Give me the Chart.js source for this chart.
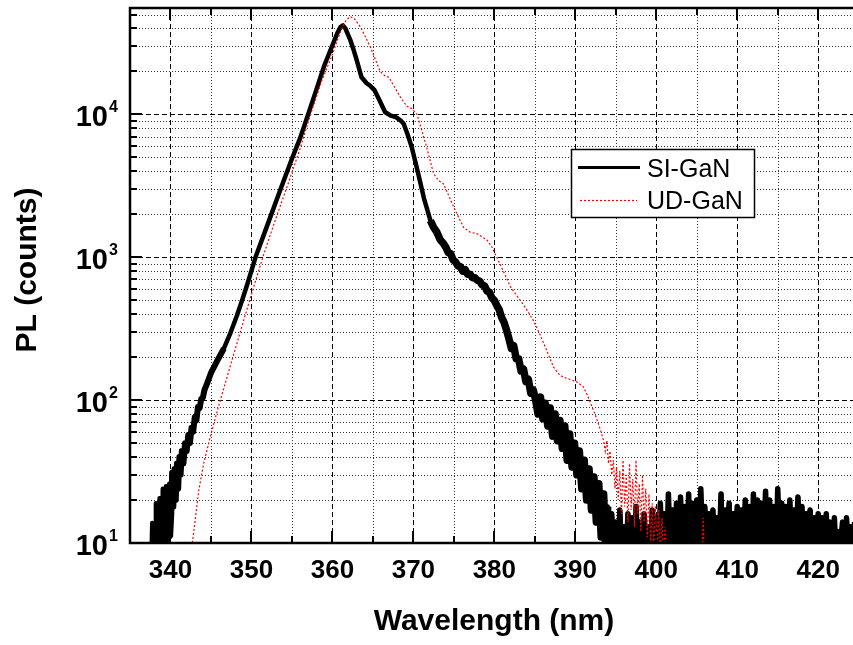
<!DOCTYPE html>
<html>
<head>
<meta charset="utf-8">
<title>PL spectra</title>
<script src="https://cdn.jsdelivr.net/npm/chart.js@4.4.0/dist/chart.umd.min.js"></script>
<style>
    html, body { margin: 0; padding: 0; background: #fff; }
    #wrap { width: 853px; height: 645px; overflow: hidden; }
</style>
</head>
<body>
<div id="wrap"><canvas id="pl-chart" width="853" height="645"></canvas></div>
<script>
// SI-GaN spectrum (wavelength nm / counts)
const siWave = [
    337.6, 337.75, 337.85, 338.1, 338.2, 338.3, 338.55, 338.65, 338.75, 338.95,
    339.05, 339.15, 339.35, 339.45, 339.55, 339.75, 339.85, 339.95, 340.1, 340.2,
    340.35, 340.5, 340.65, 340.8, 340.95, 341.1, 341.25, 341.4, 341.6, 341.8,
    342.0, 342.2, 342.4, 342.6, 342.8, 343.0, 343.2, 343.4, 343.6, 343.8,
    344.0, 344.2, 344.5, 345.0, 345.8, 346.6, 347.4, 348.2, 348.9, 349.5,
    350.5, 352.0, 353.5, 355.0, 356.0, 357.0, 358.0, 359.0, 360.0, 360.6,
    361.0, 361.3, 361.6, 362.2, 362.6, 363.0, 363.6, 364.2, 364.7, 365.2,
    365.8, 366.5, 367.2, 367.8, 368.4, 368.8, 369.3, 369.8, 370.5, 371.3,
    372.1, 372.5, 372.9, 373.3, 373.7, 374.0, 374.3, 374.6, 374.9, 375.2,
    375.5, 375.8, 376.1, 376.4, 376.7, 377.0, 377.3, 377.6, 377.9, 378.2,
    378.5, 378.8, 379.1, 379.4, 379.7, 380.0, 380.3, 380.6, 380.9, 381.2,
    381.5, 381.8, 382.1, 382.4, 382.7, 383.0, 383.3, 383.6, 383.9, 384.2,
    384.5, 384.8, 385.1, 385.4, 385.7, 386.0, 386.3, 386.6, 386.9, 387.2,
    387.5, 387.8, 388.1, 388.4, 388.7, 389.0, 389.3, 389.6, 389.9, 390.2,
    390.5, 390.8, 391.1, 391.4, 391.7, 392.0, 392.3, 392.6, 392.9, 393.2,
    393.5, 393.8, 394.0,
    394.25, 394.5, 394.75, 395.0, 395.25, 395.5, 395.75, 396.0, 396.25, 396.5,
    396.75, 397.0, 397.25, 397.5, 397.75, 398.0, 398.25, 398.5, 398.75, 399.0,
    399.25, 399.5, 399.75, 400.0, 400.25, 400.5, 400.75, 401.0, 401.25, 401.5,
    401.75, 402.0, 402.25, 402.5, 402.75, 403.0, 403.25, 403.5, 403.75, 404.0,
    404.25, 404.5, 404.75, 405.0, 405.25, 405.5, 405.75, 406.0, 406.25, 406.5,
    406.75, 407.0, 407.25, 407.5, 407.75, 408.0, 408.25, 408.5, 408.75, 409.0,
    409.25, 409.5, 409.75, 410.0, 410.25, 410.5, 410.75, 411.0, 411.25, 411.5,
    411.75, 412.0, 412.25, 412.5, 412.75, 413.0, 413.25, 413.5, 413.75, 414.0,
    414.25, 414.5, 414.75, 415.0, 415.25, 415.5, 415.75, 416.0, 416.25, 416.5,
    416.75, 417.0, 417.25, 417.5, 417.75, 418.0, 418.25, 418.5, 418.75, 419.0,
    419.25, 419.5, 419.75, 420.0, 420.25, 420.5, 420.75, 421.0, 421.25, 421.5,
    421.75, 422.0, 422.25, 422.5, 422.75, 423.0, 423.25, 423.5, 423.75, 424.0,
    424.25, 424.5, 424.75, 425.0
];
const siCounts = [
    6, 13.8, 6, 6, 19, 6, 7, 20.6, 7, 9,
    24, 8, 9, 25, 9, 12, 26, 11, 16, 31,
    18, 33, 20, 36, 24, 40, 30, 44, 36, 50,
    44, 57, 50, 64, 60, 76, 72, 90, 88, 102,
    104, 118, 130, 155, 190, 230, 295, 390, 510, 650,
    1000, 1700, 2900, 4900, 6800, 10000, 14800, 22000, 30500, 37000,
    41000, 42000, 40000, 33300, 28500, 24000, 18200, 16600, 15800, 14800,
    12600, 10400, 9800, 9600, 9100, 8600, 7200, 5900, 4070, 2600,
    1810, 1620, 1500, 1330, 1250, 1180, 1080, 1060, 960, 930,
    870, 860, 800, 820, 760, 760, 720, 720, 690, 680,
    640, 630, 580, 570, 520, 500, 460, 430, 380, 350,
    310, 270, 230, 240, 195, 195, 160, 165, 135, 140,
    112, 118, 100, 80, 105, 74, 95, 66, 88, 56,
    80, 52, 72, 46, 66, 38, 58, 34, 50, 30,
    44, 24, 38, 20, 33, 17, 29, 14, 26, 11,
    22, 8, 18,
    7, 16, 8, 14, 6, 17, 8, 13, 7, 16,
    9, 15, 7, 18, 8, 14, 6, 16, 8, 13,
    7, 17, 9, 15, 7, 19, 8, 16, 7, 22,
    8, 17, 6, 19, 9, 21, 7, 18, 8, 22,
    7, 19, 9, 20, 6, 24, 8, 18, 7, 16,
    9, 17, 7, 15, 8, 22, 6, 17, 9, 19,
    7, 16, 8, 18, 7, 17, 9, 20, 8, 18,
    6, 22, 8, 20, 7, 19, 9, 23, 7, 20,
    8, 18, 6, 24, 9, 19, 7, 18, 8, 20,
    7, 17, 9, 21, 8, 18, 6, 16, 8, 17,
    7, 15, 9, 16, 7, 15, 8, 16, 6, 14,
    8, 15, 7, 12, 9, 14, 7, 15, 8, 13,
    7, 14, 8, 13
];

// UD-GaN spectrum
const udWave = [
    342.3, 342.7, 343.1, 343.5, 344.1, 344.9, 345.8, 347.0, 348.2, 349.9,
    351.4, 353.0, 354.5, 356.0, 357.3, 358.7, 360.0, 361.0, 361.7, 362.2,
    362.7, 363.5, 364.7, 365.9, 366.5, 367.0, 367.6, 368.4, 369.2, 369.8,
    370.45, 371.5, 372.5, 373.1, 373.7, 375.0, 376.2, 377.0, 377.9, 379.1,
    379.7, 380.3, 381.2, 382.0, 383.2, 384.0, 384.8, 385.5, 386.1, 387.3,
    388.0, 388.5, 389.3, 390.2, 391.0, 391.5, 391.9, 392.5, 393.1, 393.5,
    393.7, 393.9, 394.1, 394.3, 394.5, 394.7, 394.9, 395.1, 395.3, 395.5,
    395.7, 395.9, 396.1, 396.3, 396.5, 396.7, 396.9, 397.1, 397.3, 397.5,
    397.7, 397.9, 398.1, 398.3, 398.5, 398.7, 398.9, 399.1, 399.3, 399.5,
    399.7, 399.9, 400.1, 400.3, 400.5, 400.7, 400.9, 401.1, 401.3, 401.5,
    401.8, 405.6, 405.8, 406.0, 424.5
];
const udCounts = [
    6, 10, 15.3, 23.5, 36, 55, 85, 146, 249, 527,
    1000, 1860, 3240, 5750, 10000, 17300, 26300, 38000, 45700, 48400,
    46800, 40700, 29500, 20000, 18600, 18200, 15800, 13200, 11400, 11000,
    10000, 6300, 3850, 3450, 3280, 2240, 1620, 1500, 1460, 1320,
    1180, 1000, 780, 620, 500, 430, 363, 300, 250, 171,
    152, 145, 140, 134, 124, 108, 95, 78, 62, 52,
    44, 52, 36, 44, 30, 38, 24, 34, 20, 32,
    16, 38, 18, 30, 14, 36, 17, 28, 13, 38,
    16, 26, 12, 30, 14, 24, 11, 22, 10, 19,
    9, 18, 9.5, 17, 8.5, 15, 8, 13, 7, 10,
    6, 6, 15, 6, 6
];

// ticks and grid
const xMajorTicks = [340, 350, 360, 370, 380, 390, 400, 410, 420];
const xMinorTicks = [345, 355, 365, 375, 385, 395, 405, 415];
const yMajorTicks = [10, 100, 1000, 10000];
const yTickExponents = ['1', '2', '3', '4'];
const yMinorTicks = [
    20, 30, 40, 50, 60, 70, 80, 90,
    200, 300, 400, 500, 600, 700, 800, 900,
    2000, 3000, 4000, 5000, 6000, 7000, 8000, 9000,
    20000, 30000, 40000, 50000
];

const FONT = '"Liberation Sans", Arial, Helvetica, sans-serif';

function toPoints(wave, counts) {
    return wave.map((w, i) => ({ x: w, y: counts[i] }));
}

// same SI-GaN points, only those within a wavelength range
function rangePoints(wave, counts, lo, hi) {
    return toPoints(wave, counts).filter(p => p.x >= lo && p.x <= hi);
}

function hLine(ctx, area, py, dash, color) {
    const y = Math.round(py) + 0.5;
    ctx.setLineDash(dash);
    ctx.strokeStyle = color;
    ctx.beginPath();
    ctx.moveTo(area.left, y);
    ctx.lineTo(area.right, y);
    ctx.stroke();
}

function vLine(ctx, area, px, dash, color) {
    const x = Math.round(px) + 0.5;
    ctx.setLineDash(dash);
    ctx.strokeStyle = color;
    ctx.beginPath();
    ctx.moveTo(x, area.top);
    ctx.lineTo(x, area.bottom);
    ctx.stroke();
}

// grid, frame, ticks, labels and legend
const framePlugin = {
    id: 'frame',
    beforeDatasetsDraw(chart) {
        const { ctx, chartArea: a, scales: { x, y } } = chart;
        ctx.save();
        ctx.lineWidth = 1;
        yMinorTicks.forEach(v => hLine(ctx, a, y.getPixelForValue(v), [1, 2], '#333'));
        yMajorTicks.slice(1).forEach(v => hLine(ctx, a, y.getPixelForValue(v), [5, 3], '#000'));
        xMinorTicks.forEach(v => vLine(ctx, a, x.getPixelForValue(v), [1, 2], '#333'));
        xMajorTicks.forEach(v => vLine(ctx, a, x.getPixelForValue(v), [5, 3], '#000'));
        ctx.restore();
    },
    afterDatasetsDraw(chart) {
        const { ctx, chartArea: a, scales: { x, y } } = chart;
        ctx.save();
        ctx.setLineDash([]);
        ctx.strokeStyle = '#000';
        ctx.fillStyle = '#000';

        // frame (left, top, bottom)
        ctx.lineWidth = 2.5;
        ctx.beginPath();
        ctx.moveTo(a.right + 2, a.top);
        ctx.lineTo(a.left, a.top);
        ctx.lineTo(a.left, a.bottom);
        ctx.lineTo(a.right + 2, a.bottom);
        ctx.stroke();

        // inward ticks
        ctx.lineWidth = 2;
        const tick = (px, len, top) => {
            const xx = Math.round(px);
            ctx.beginPath();
            if (top) { ctx.moveTo(xx, a.top); ctx.lineTo(xx, a.top + len); }
            else { ctx.moveTo(xx, a.bottom); ctx.lineTo(xx, a.bottom - len); }
            ctx.stroke();
        };
        xMajorTicks.forEach(v => { tick(x.getPixelForValue(v), 12, false); tick(x.getPixelForValue(v), 12, true); });
        xMinorTicks.forEach(v => { tick(x.getPixelForValue(v), 7, false); tick(x.getPixelForValue(v), 7, true); });
        const ytick = (v, len) => {
            const yy = Math.round(y.getPixelForValue(v));
            ctx.beginPath();
            ctx.moveTo(a.left, yy);
            ctx.lineTo(a.left + len, yy);
            ctx.stroke();
        };
        yMajorTicks.forEach(v => ytick(v, 12));
        yMinorTicks.forEach(v => ytick(v, 7));

        // x tick labels
        ctx.font = 'bold 26px ' + FONT;
        ctx.textAlign = 'center';
        ctx.textBaseline = 'alphabetic';
        xMajorTicks.forEach(v => ctx.fillText(String(v), x.getPixelForValue(v), 578));

        // y tick labels 10^n
        yMajorTicks.forEach((v, i) => {
            const py = y.getPixelForValue(v);
            ctx.font = 'bold 29px ' + FONT;
            ctx.textAlign = 'right';
            ctx.fillText('10', 108, py + 11.5);
            ctx.font = 'bold 16px ' + FONT;
            ctx.textAlign = 'left';
            ctx.fillText(yTickExponents[i], 109, py - 2);
        });

        // axis titles
        ctx.font = 'bold 30px ' + FONT;
        ctx.textAlign = 'center';
        ctx.fillText('Wavelength (nm)', 494, 630);
        ctx.save();
        ctx.translate(36, 270);
        ctx.rotate(-Math.PI / 2);
        ctx.font = 'bold 30px ' + FONT;
        ctx.fillText('PL (counts)', 0, 0);
        ctx.restore();

        // legend
        ctx.fillStyle = '#fff';
        ctx.fillRect(571, 149, 183, 68);
        ctx.lineWidth = 1.5;
        ctx.strokeStyle = '#000';
        ctx.strokeRect(571.5, 149.5, 183, 68);
        ctx.lineWidth = 3;
        ctx.beginPath();
        ctx.moveTo(578, 167.5);
        ctx.lineTo(640, 167.5);
        ctx.stroke();
        ctx.strokeStyle = '#ff0000';
        ctx.lineWidth = 1.2;
        ctx.setLineDash([2, 2]);
        ctx.beginPath();
        ctx.moveTo(580, 200.5);
        ctx.lineTo(637, 200.5);
        ctx.stroke();
        ctx.setLineDash([]);
        ctx.fillStyle = '#000';
        ctx.font = '25px ' + FONT;
        ctx.textAlign = 'left';
        ctx.fillText('SI-GaN', 647, 176.5);
        ctx.fillText('UD-GaN', 647, 208.5);
        ctx.restore();
    }
};

function siLayer(points, width) {
    return {
        label: 'SI-GaN',
        data: points,
        borderColor: '#000000',
        borderWidth: width,
        borderJoinStyle: 'round',
        pointRadius: 0,
        tension: 0,
        clip: 0,
        order: 1
    };
}

document.addEventListener('DOMContentLoaded', function() {
    const ctx = document.getElementById('pl-chart').getContext('2d');
    new Chart(ctx, {
        type: 'line',
        data: {
            datasets: [
                {
                    label: 'UD-GaN',
                    data: toPoints(udWave, udCounts),
                    borderColor: '#ff0000',
                    borderWidth: 1.2,
                    borderDash: [2, 2],
                    pointRadius: 0,
                    tension: 0,
                    clip: 0,
                    order: 0
                },
                siLayer(toPoints(siWave, siCounts), 4.5),
                // the noisy stretches of the same trace are drawn heavier
                siLayer(rangePoints(siWave, siCounts, 339.9, 346.6), 6),
                siLayer(rangePoints(siWave, siCounts, 372.1, 394.0), 7.5),
                siLayer(rangePoints(siWave, siCounts, 394.0, 425.0), 5.5)
            ]
        },
        options: {
            responsive: false,
            animation: false,
            devicePixelRatio: 1,
            layout: { padding: { left: 130, top: 8, right: 0, bottom: 102 } },
            plugins: {
                legend: { display: false },
                tooltip: { enabled: false }
            },
            scales: {
                x: { type: 'linear', min: 335, max: 424.3, display: false },
                y: { type: 'logarithmic', min: 10, max: 55600, display: false }
            }
        },
        plugins: [framePlugin]
    });
});
</script>
</body>
</html>
